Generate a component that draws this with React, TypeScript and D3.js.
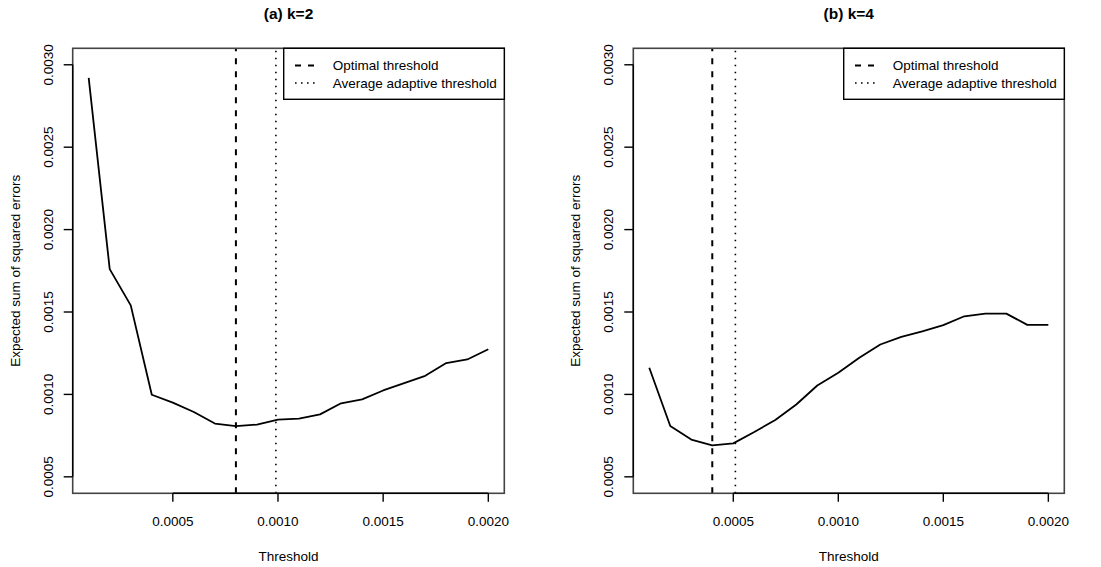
import React, { useEffect, useRef } from 'react'
import * as d3 from 'd3'

// thresholds on the x axis
const thresholds = [
  0.0001, 0.0002, 0.0003, 0.0004, 0.0005, 0.0006, 0.0007, 0.0008, 0.0009, 0.001,
  0.0011, 0.0012, 0.0013, 0.0014, 0.0015, 0.0016, 0.0017, 0.0018, 0.0019, 0.002,
]

// expected sum of squared errors, k=2
const sseK2 = [
  0.00292, 0.00176, 0.00154, 0.000998, 0.00095, 0.000893, 0.000823, 0.000808, 0.000817, 0.000847,
  0.000853, 0.000879, 0.000946, 0.00097, 0.001024, 0.001068, 0.001113, 0.00119, 0.001212, 0.001274,
]

// expected sum of squared errors, k=4
const sseK4 = [
  0.001162, 0.000808, 0.000726, 0.000691, 0.000703, 0.000772, 0.000845, 0.000939, 0.001054, 0.001131,
  0.001222, 0.001303, 0.001349, 0.001383, 0.00142, 0.001474, 0.00149, 0.00149, 0.001422, 0.001422,
]

const titles = ['(a) k=2', '(b) k=4']
const optimal = [0.0008, 0.0004]
const adaptive = [0.00099, 0.00051]
const xTicks = [0.0005, 0.001, 0.0015, 0.002]
const yTicks = [0.0005, 0.001, 0.0015, 0.002, 0.0025, 0.003]
const legendLabels = ['Optimal threshold', 'Average adaptive threshold']

const W = 1101
const H = 567
const FONT = "'Liberation Sans', Arial, Helvetica, sans-serif"

export default function App() {
  const ref = useRef<SVGSVGElement>(null)

  useEffect(() => {
    const svg = d3.select(ref.current)
    svg.selectAll('*').remove()
    svg.attr('font-family', FONT)

    const panels = [
      { left: 72.7, right: 504.3, data: sseK2 },
      { left: 633.3, right: 1064.3, data: sseK4 },
    ]
    const top = 48.3
    const bottom = 493.3

    panels.forEach((p, pi) => {
      const g = svg.append('g')
      // R style 4% padding around the data range / ylim
      const x = d3.scaleLinear().domain([0.000024, 0.002076]).range([p.left, p.right])
      const y = d3.scaleLinear().domain([0.0004, 0.0031]).range([bottom, top])

      // vertical lines, drawn from the bottom
      g.append('line')
        .attr('x1', x(optimal[pi])).attr('x2', x(optimal[pi]))
        .attr('y1', bottom).attr('y2', top)
        .attr('stroke', '#000').attr('stroke-width', 2)
        .attr('stroke-dasharray', '6,7')
      g.append('line')
        .attr('x1', x(adaptive[pi])).attr('x2', x(adaptive[pi]))
        .attr('y1', bottom).attr('y2', top)
        .attr('stroke', '#000').attr('stroke-width', 1.6)
        .attr('stroke-dasharray', '1.6,5.4')

      const line = d3.line<number>()
        .x((d, i) => x(thresholds[i]))
        .y(d => y(d))
      g.append('path')
        .datum(p.data)
        .attr('d', line)
        .attr('fill', 'none')
        .attr('stroke', '#000')
        .attr('stroke-width', 1.8)
        .attr('stroke-linejoin', 'round')

      // box
      g.append('rect')
        .attr('x', p.left).attr('y', top)
        .attr('width', p.right - p.left).attr('height', bottom - top)
        .attr('fill', 'none').attr('stroke', '#444').attr('stroke-width', 1.6)

      // x axis
      g.append('line')
        .attr('x1', x(xTicks[0])).attr('x2', x(xTicks[xTicks.length - 1]))
        .attr('y1', bottom).attr('y2', bottom)
        .attr('stroke', '#000').attr('stroke-width', 1.4)
      xTicks.forEach(t => {
        g.append('line')
          .attr('x1', x(t)).attr('x2', x(t))
          .attr('y1', bottom).attr('y2', bottom + 8.5)
          .attr('stroke', '#000').attr('stroke-width', 1.4)
        g.append('text')
          .attr('x', x(t)).attr('y', 526)
          .attr('text-anchor', 'middle')
          .attr('font-size', 13.5)
          .text(d3.format('.4f')(t))
      })

      // y axis
      g.append('line')
        .attr('x1', p.left).attr('x2', p.left)
        .attr('y1', y(yTicks[0])).attr('y2', y(yTicks[yTicks.length - 1]))
        .attr('stroke', '#000').attr('stroke-width', 1.4)
      yTicks.forEach(t => {
        g.append('line')
          .attr('x1', p.left).attr('x2', p.left - 9)
          .attr('y1', y(t)).attr('y2', y(t))
          .attr('stroke', '#000').attr('stroke-width', 1.4)
        g.append('text')
          .attr('transform', 'translate(' + (p.left - 20) + ',' + y(t) + ') rotate(-90)')
          .attr('text-anchor', 'middle')
          .attr('font-size', 13.5)
          .text(d3.format('.4f')(t))
      })

      // axis titles
      g.append('text')
        .attr('x', (p.left + p.right) / 2).attr('y', 561)
        .attr('text-anchor', 'middle')
        .attr('font-size', 13.5)
        .text('Threshold')
      g.append('text')
        .attr('transform', 'translate(' + (p.left - 53) + ',' + (top + bottom) / 2 + ') rotate(-90)')
        .attr('text-anchor', 'middle')
        .attr('font-size', 13.5)
        .text('Expected sum of squared errors')

      // title
      g.append('text')
        .attr('x', (p.left + p.right) / 2).attr('y', 18.5)
        .attr('text-anchor', 'middle')
        .attr('font-size', 15.5)
        .attr('font-weight', 'bold')
        .text(titles[pi])

      // legend
      const lw = 220.6
      const lx = p.right - lw
      const leg = g.append('g')
      leg.append('rect')
        .attr('x', lx).attr('y', top)
        .attr('width', lw).attr('height', 51)
        .attr('fill', '#fff').attr('stroke', '#000').attr('stroke-width', 1.4)
      const styles = [
        { dash: '6,7', w: 2 },
        { dash: '1.6,4.4', w: 1.6 },
      ]
      legendLabels.forEach((lab, i) => {
        const ly = 65.5 + i * 17.5
        leg.append('line')
          .attr('x1', lx + 11.3).attr('x2', lx + 31.3)
          .attr('y1', ly).attr('y2', ly)
          .attr('stroke', '#000')
          .attr('stroke-width', styles[i].w)
          .attr('stroke-dasharray', styles[i].dash)
        leg.append('text')
          .attr('x', lx + 49).attr('y', ly + 4.8)
          .attr('font-size', 13.5)
          .text(lab)
      })
    })
  }, [])

  return (
    <svg
      ref={ref}
      width={W}
      height={H}
      style={{ position: 'absolute', left: 0, top: 0, background: '#fff' }}
    />
  )
}
